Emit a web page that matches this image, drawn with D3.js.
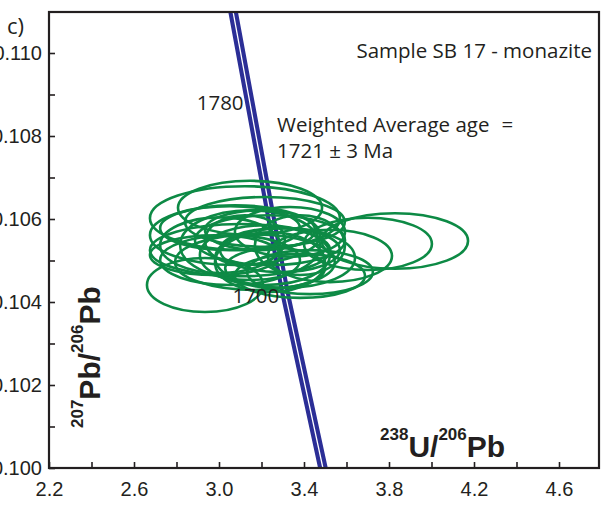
<!DOCTYPE html>
<html>
<head>
<meta charset="utf-8">
<script src="https://cdn.jsdelivr.net/npm/d3@7"></script>
<style>
  body { margin: 0; background: #fff; }
  svg { display: block; }
  .tick text { font-family: "Liberation Sans", Arial, sans-serif; font-size: 20px; fill: #231f20; }
  .note { font-family: "Open Sans", sans-serif; font-size: 20.5px; fill: #231f20; }
  .title { font-family: "Liberation Sans", Arial, sans-serif; font-weight: bold; fill: #231f20; }
</style>
</head>
<body>
<svg width="601" height="505"></svg>
<script>
// axis ticks
const xTicks = [2.2, 2.4, 2.6, 2.8, 3.0, 3.2, 3.4, 3.6, 3.8, 4.0, 4.2, 4.4, 4.6];
const xTickLabels = ["2.2", "2.6", "3.0", "3.4", "3.8", "4.2", "4.6"];
const yTicks = [0.100, 0.101, 0.102, 0.103, 0.104, 0.105, 0.106, 0.107, 0.108, 0.109, 0.110];
const yTickLabels = ["0.100", "0.102", "0.104", "0.106", "0.108", "0.110"];

// concordia curve (238U/206Pb, 207Pb/206Pb)
const concordiaX = [3.050, 3.066, 3.144, 3.268, 3.312, 3.489, 3.500];
const concordiaY = [0.1114, 0.1110, 0.10884, 0.10538, 0.10419, 0.1000, 0.0997];
const ageLabels = ["1780", "1700"];
const ageX = [3.144, 3.312];
const ageY = [0.10884, 0.10419];

// error ellipses: centre and half-axes
const ellX  = [2.934, 3.828, 3.701, 3.522, 3.428, 3.146, 3.122, 3.075, 3.099, 3.146, 3.216, 3.240,
               3.169, 3.287, 3.334, 3.052, 3.381, 3.193, 3.005, 3.264, 3.122, 3.311, 3.216,
               3.381, 3.052, 3.240, 2.981];
const ellY  = [0.10441, 0.10547, 0.10540, 0.10511, 0.10472, 0.10627, 0.10602, 0.10561, 0.10525, 0.10537, 0.10513, 0.10549,
               0.10496, 0.10525, 0.10569, 0.10501, 0.10537, 0.10573, 0.10537, 0.10482, 0.10549, 0.10506, 0.10593,
               0.10463, 0.10578, 0.10496, 0.10513];
const ellSx = [0.273, 0.344, 0.301, 0.292, 0.296, 0.339, 0.447, 0.400, 0.424, 0.329, 0.306, 0.353,
               0.376, 0.282, 0.259, 0.329, 0.212, 0.259, 0.282, 0.235, 0.188, 0.329, 0.376,
               0.306, 0.329, 0.259, 0.306];
const ellSy = [0.00065, 0.00067, 0.00063, 0.00063, 0.00053, 0.00065, 0.00077, 0.00072, 0.00063, 0.00084, 0.00072, 0.00060,
               0.00067, 0.00053, 0.00060, 0.00060, 0.00072, 0.00048, 0.00067, 0.00048, 0.00060, 0.00072, 0.00060,
               0.00053, 0.00053, 0.00072, 0.00048];

const frame = { left: 49, right: 599, top: 12, bottom: 468 };

const svg = d3.select("svg");

const x = d3.scaleLinear().domain([2.2, 4.8]).range([frame.left, frame.left + 2.6 * 212.5]);
const y = d3.scaleLinear().domain([0.100, 0.111]).range([frame.bottom, frame.bottom - 11 * 41.5]);

svg.append("clipPath").attr("id", "plot")
  .append("rect")
  .attr("x", frame.left).attr("y", frame.top)
  .attr("width", frame.right - frame.left).attr("height", frame.bottom - frame.top);

const plot = svg.append("g").attr("clip-path", "url(#plot)");

// concordia: thick blue band with a thin white centre
const line = d3.line().x((d, i) => x(concordiaX[i])).y((d, i) => y(concordiaY[i]));
plot.append("path")
  .attr("d", line(concordiaX))
  .attr("fill", "none")
  .attr("stroke", "#2b2e96")
  .attr("stroke-width", 9.5);
plot.append("path")
  .attr("d", line(concordiaX))
  .attr("fill", "none")
  .attr("stroke", "#fff")
  .attr("stroke-width", 1.3);

plot.selectAll("ellipse")
  .data(ellX)
  .enter()
  .append("ellipse")
  .attr("cx", (d, i) => x(ellX[i]))
  .attr("cy", (d, i) => y(ellY[i]))
  .attr("rx", (d, i) => x(ellX[i] + ellSx[i]) - x(ellX[i]))
  .attr("ry", (d, i) => y(ellY[i]) - y(ellY[i] + ellSy[i]))
  .attr("fill", "none")
  .attr("stroke", "#0d8a45")
  .attr("stroke-width", 2.6);

// axes
const xAxis = d3.axisBottom(x)
  .tickValues(xTicks)
  .tickFormat(d => xTickLabels.includes(d.toFixed(1)) ? d.toFixed(1) : "")
  .tickSizeInner(-6)
  .tickSizeOuter(0)
  .tickPadding(14);

const yAxis = d3.axisLeft(y)
  .tickValues(yTicks)
  .tickFormat(d => yTickLabels.includes(d.toFixed(3)) ? d.toFixed(3) : "")
  .tickSizeInner(-6)
  .tickSizeOuter(0)
  .tickPadding(7);

const gx = svg.append("g").attr("transform", `translate(0,${frame.bottom})`).call(xAxis);
const gy = svg.append("g").attr("transform", `translate(${frame.left},0)`).call(yAxis);
[gx, gy].forEach(g => {
  g.select(".domain").remove();
  g.selectAll(".tick line").attr("stroke", "#231f20").attr("stroke-width", 1.6);
});

// frame
svg.append("rect")
  .attr("x", frame.left).attr("y", frame.top)
  .attr("width", frame.right - frame.left).attr("height", frame.bottom - frame.top)
  .attr("fill", "none")
  .attr("stroke", "#231f20")
  .attr("stroke-width", 2.2);

// age labels on the concordia
svg.selectAll(".age")
  .data(ageLabels)
  .enter()
  .append("text")
  .attr("class", "note")
  .attr("x", (d, i) => x(ageX[i]) - 6)
  .attr("y", (d, i) => y(ageY[i]) + 9)
  .attr("text-anchor", "end")
  .text(d => d);

svg.append("text").attr("class", "note").attr("x", 7).attr("y", 34)
  .style("font-size", "22px").text("c)");
svg.append("text").attr("class", "note").attr("x", 592).attr("y", 58)
  .attr("text-anchor", "end").text("Sample SB 17 - monazite");
const wa = svg.append("text").attr("class", "note").attr("x", 277).attr("y", 132);
wa.append("tspan").text("Weighted Average age");
wa.append("tspan").attr("dx", 12).text("=");
svg.append("text").attr("class", "note").attr("x", 277).attr("y", 158)
  .text("1721 \u00b1 3 Ma");

// axis titles
function ratioTitle(g, supA, mainA, supB, mainB) {
  const t = g.append("text").attr("class", "title");
  t.append("tspan").attr("font-size", 17).attr("dy", -17).text(supA);
  t.append("tspan").attr("font-size", 30).attr("dy", 17).text(mainA);
  t.append("tspan").attr("font-size", 17).attr("dy", -17).text(supB);
  t.append("tspan").attr("font-size", 30).attr("dy", 17).text(mainB);
}
ratioTitle(svg.append("g").attr("transform", "translate(380,457)"), "238", "U/", "206", "Pb");
ratioTitle(svg.append("g").attr("transform", "translate(100,428) rotate(-90)"), "207", "Pb/", "206", "Pb");
</script>
</body>
</html>
